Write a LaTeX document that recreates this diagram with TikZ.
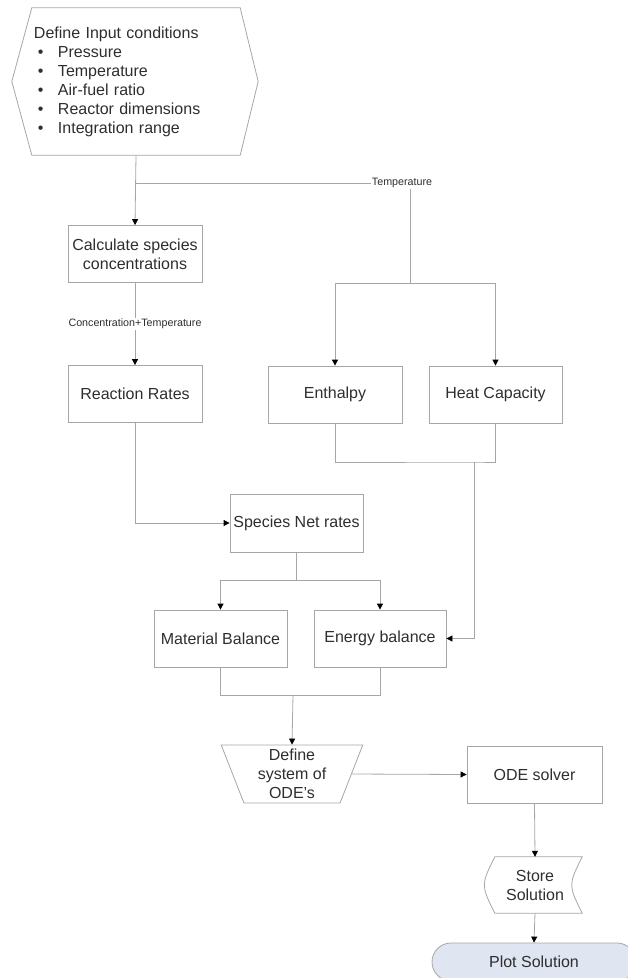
\documentclass[tikz,border=0pt]{standalone}
\usepackage{fontspec}
\setmainfont{Liberation Sans}
\usetikzlibrary{arrows.meta,shapes.geometric,calc}
\definecolor{linegray}{HTML}{A6A6A6}
\definecolor{textgray}{HTML}{2E2E2E}
\definecolor{plotfill}{HTML}{DFE5F1}
\newcommand{\itembullet}{\makebox[24pt][l]{\hspace{4pt}\textbullet}}

\begin{document}
\begin{tikzpicture}[x=1pt,y=-1pt,
    every node/.style={font=\fontsize{16}{19}\selectfont, text=textgray},
    procbox/.style={draw=linegray, line width=0.8pt, minimum width=134pt, minimum height=57pt, align=center, inner sep=2pt},
    flow/.style={draw=linegray, line width=0.8pt},
    arrow/.style={flow, -{Triangle[length=6pt,width=6pt,color=black]}},
    smalllabel/.style={font=\fontsize{10.7}{12}\selectfont, fill=white, inner sep=1pt}]

    \useasboundingbox (0,0) rectangle (627,978);

    % Input conditions (hexagon)
    \node[align=left, text width=204pt, inner xsep=2pt, inner ysep=0pt, minimum height=147pt] (input) at (136,81.5)
        {Define Input conditions\\
         \itembullet Pressure\\
         \itembullet Temperature\\
         \itembullet Air-fuel ratio\\
         \itembullet Reactor dimensions\\
         \itembullet Integration range};
    \draw[flow] (input.north west) -- (input.north east) -- ($(input.east)+(18,0)$)
        -- (input.south east) -- (input.south west) -- ($(input.west)+(-20,0)$) -- cycle;

    % Process boxes
    \node[procbox] (calc) at (135,254) {Calculate species\\concentrations};
    \node[procbox] (react) at (135,394) {Reaction Rates};
    \node[procbox] (enth) at (335,394.5) {Enthalpy};
    \node[procbox, minimum width=133pt] (heat) at (495.5,394.5) {Heat Capacity};
    \node[procbox, minimum width=133pt, minimum height=58pt] (netrates) at (296.5,523) {Species Net rates};
    \node[procbox, minimum width=133pt] (matbal) at (220.5,638.5) {Material Balance};
    \node[procbox, minimum width=132pt] (enbal) at (380,638.5) {Energy balance};
    \node[trapezium, shape border rotate=180, trapezium left angle=72, trapezium right angle=72,
        trapezium stretches=true, draw=linegray, line width=0.8pt, minimum width=142pt,
        minimum height=58pt, inner sep=0pt, align=center] (odesys) at (292,774) {Define\\system of\\ODE’s};
    \node[procbox, minimum width=135pt] (solver) at (534.5,774.5) {ODE solver};

    % Stored data
    \node[minimum width=94pt, minimum height=56pt, align=center, inner sep=0pt] (store) at (535,885) {Store\\Solution};
    \draw[flow] ($(store.north west)+(7,0)$) -- (store.north east)
        .. controls ($(store.east)+(-14,0)$) .. (store.south east)
        -- ($(store.south west)+(7,0)$)
        .. controls ($(store.west)+(-7,0)$) .. cycle;

    % Terminator
    \node[draw=linegray, fill=plotfill, rounded corners=19pt, line width=0.8pt,
        minimum width=204pt, minimum height=38pt] (plot) at (534,962) {Plot Solution};

    % Junction points
    \coordinate (tsplit) at (136,183);
    \coordinate (tfork) at (410,283);
    \coordinate (hjoin) at (474,462);
    \coordinate (nsplit) at (296.5,580);
    \coordinate (bjoin) at (293,695);

    % Connectors
    \draw[arrow] (input.south) -- (calc.north);
    \draw[flow] (tsplit) -| (tfork);
    \node[smalllabel] (templabel) at (402,183) {Temperature};
    \draw[arrow] (tfork) -| (enth.north);
    \draw[arrow] (tfork) -| (heat.north);

    \draw[arrow] (calc.south) -- (react.north);
    \node[smalllabel] (conclabel) at (135,324) {Concentration+Temperature};

    \draw[arrow] (react.south) |- (netrates.west);
    \draw[flow] (enth.south) |- (hjoin) -| (heat.south);
    \draw[arrow] (hjoin) |- (enbal.east);

    \draw[flow] (netrates.south) -- (nsplit);
    \draw[arrow] (nsplit) -| (matbal.north);
    \draw[arrow] (nsplit) -| (enbal.north);

    \draw[flow] (matbal.south) |- (bjoin) -| (enbal.south);
    \draw[arrow] (bjoin) -- (odesys.north);

    \draw[arrow] (odesys.east) -- (solver.west);
    \draw[arrow] (solver.south) -- (store.north);
    \draw[arrow] (store.south) -- (plot.north);

\end{tikzpicture}
\end{document}
